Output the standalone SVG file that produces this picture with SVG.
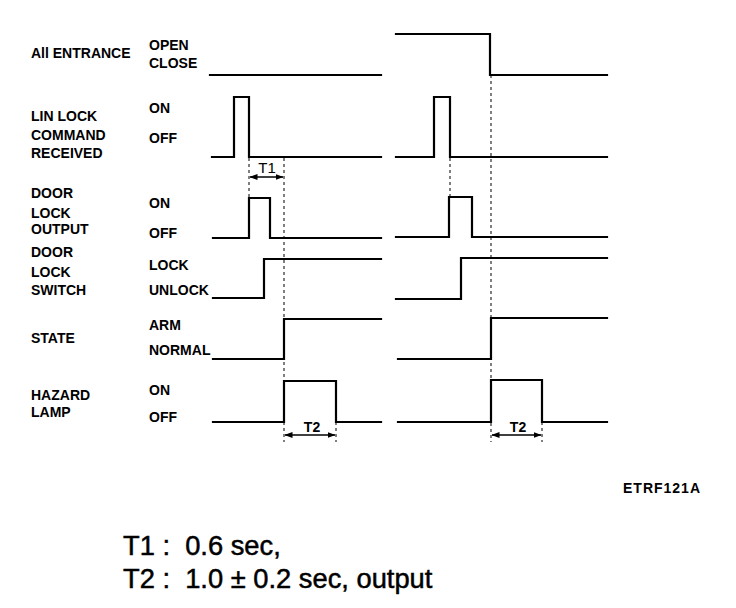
<svg xmlns="http://www.w3.org/2000/svg" width="736" height="608" viewBox="0 0 736 608">
<defs>
<style>
.lbl{font-family:"Liberation Sans",Arial,sans-serif;font-weight:bold;font-size:14px;fill:#000}
.dimt{font-family:"Liberation Sans",Arial,sans-serif;font-size:15px;fill:#000;text-anchor:middle}
.dimb{font-family:"Liberation Sans",Arial,sans-serif;font-weight:bold;font-size:14px;fill:#000;text-anchor:middle}
.foot{font-family:"Liberation Sans",Arial,sans-serif;font-size:27.3px;fill:#000;stroke:#000;stroke-width:0.5}
.sig{fill:none;stroke:#000;stroke-width:2.2;stroke-linejoin:miter;stroke-linecap:square}
.dot{fill:none;stroke:#000;stroke-width:1;stroke-dasharray:3 3}
.dim{fill:none;stroke:#000;stroke-width:1.6;marker-start:url(#ah);marker-end:url(#ah)}
</style>
<marker id="ah" viewBox="0 0 8 6" refX="7.5" refY="3" markerWidth="8" markerHeight="6" markerUnits="userSpaceOnUse" orient="auto-start-reverse">
<path d="M0 0 L8 3 L0 6 Z" fill="#000"/>
</marker>
</defs>
<rect width="736" height="608" fill="#fff"/>

<g id="sig-entrance">
<text class="lbl" x="31" y="58">All ENTRANCE</text>
<text class="lbl" x="149" y="50">OPEN</text>
<text class="lbl" x="149" y="68">CLOSE</text>
<path class="sig" d="M210 75 H381"/>
<path class="sig" d="M396 34 H490 V75 H607"/>
</g>

<g id="sig-lin">
<text class="lbl" x="31" y="121">LIN LOCK</text>
<text class="lbl" x="31" y="140">COMMAND</text>
<text class="lbl" x="31" y="158">RECEIVED</text>
<text class="lbl" x="149" y="113">ON</text>
<text class="lbl" x="149" y="143">OFF</text>
<path class="sig" d="M212 157 H234 V97 H249 V157 H381"/>
<path class="sig" d="M396 157 H434 V97 H450 V157 H607"/>
</g>

<g id="sig-output">
<text class="lbl" x="31" y="198">DOOR</text>
<text class="lbl" x="31" y="218">LOCK</text>
<text class="lbl" x="31" y="234">OUTPUT</text>
<text class="lbl" x="149" y="208">ON</text>
<text class="lbl" x="149" y="238">OFF</text>
<path class="sig" d="M213 238 H249 V198 H270 V238 H381"/>
<path class="sig" d="M396 237 H449 V197 H472 V237 H607"/>
</g>

<g id="sig-switch">
<text class="lbl" x="31" y="257">DOOR</text>
<text class="lbl" x="31" y="277">LOCK</text>
<text class="lbl" x="31" y="295">SWITCH</text>
<text class="lbl" x="149" y="270">LOCK</text>
<text class="lbl" x="149" y="295">UNLOCK</text>
<path class="sig" d="M213 298 H264 V259 H381"/>
<path class="sig" d="M396 299 H461 V258 H607"/>
</g>

<g id="sig-state">
<text class="lbl" x="31" y="343">STATE</text>
<text class="lbl" x="149" y="330">ARM</text>
<text class="lbl" x="149" y="355">NORMAL</text>
<path class="sig" d="M213 359 H284 V319 H381"/>
<path class="sig" d="M398 359 H491 V318 H607"/>
</g>

<g id="sig-hazard">
<text class="lbl" x="31" y="400">HAZARD</text>
<text class="lbl" x="31" y="417">LAMP</text>
<text class="lbl" x="149" y="395">ON</text>
<text class="lbl" x="149" y="422">OFF</text>
<path class="sig" d="M213 422 H284 V381 H336 V422 H381"/>
<path class="sig" d="M398 422 H491 V380 H542 V422 H607"/>
</g>

<g id="connectors">
<path class="dot" d="M249 158 V198"/>
<path class="dot" d="M284 158 V442"/>
<path class="dot" d="M336 422 V442"/>
<path class="dot" d="M450 158 V198"/>
<path class="dot" d="M491 75 V442"/>
<path class="dot" d="M542 422 V442"/>
<path class="dim" d="M250 177 H283"/>
<path class="dim" d="M285 435 H335"/>
<path class="dim" d="M492 435 H541"/>
<text class="dimt" x="267" y="173">T1</text>
<text class="dimb" x="312" y="432">T2</text>
<text class="dimb" x="518" y="432">T2</text>
</g>

<g id="footer">
<text class="lbl" x="623" y="493" style="letter-spacing:1px">ETRF121A</text>
<text class="foot" x="123" y="555" xml:space="preserve">T1 :  0.6 sec,</text>
<text class="foot" x="123" y="588" xml:space="preserve">T2 :  1.0 ± 0.2 sec, output</text>
</g>
</svg>
